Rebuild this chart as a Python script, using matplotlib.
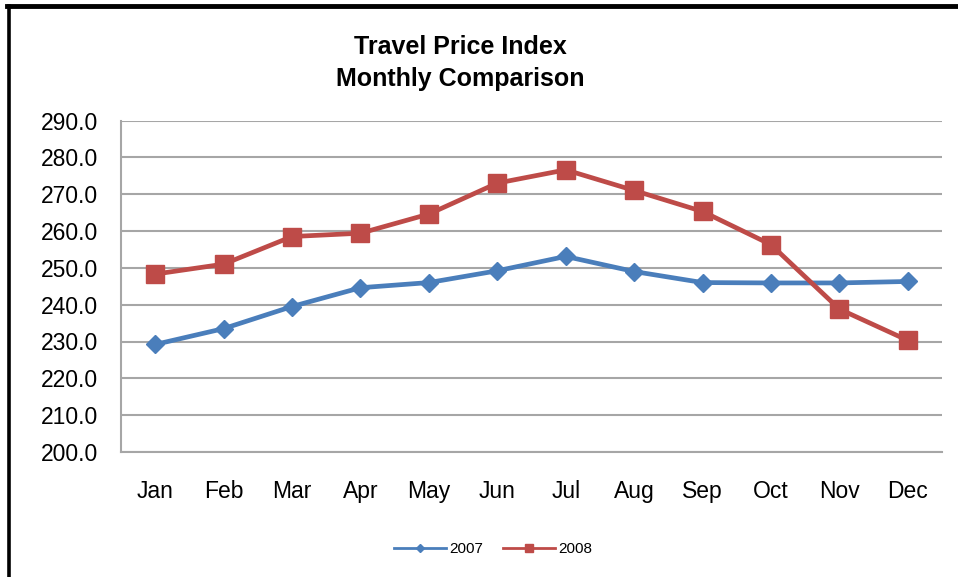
import matplotlib.pyplot as plt
from matplotlib.lines import Line2D

# data
months = ['Jan', 'Feb', 'Mar', 'Apr', 'May', 'Jun', 'Jul', 'Aug', 'Sep', 'Oct', 'Nov', 'Dec']
idx_2007 = [229.2, 233.5, 239.5, 244.6, 246.0, 249.2, 253.1, 249.0, 246.0, 245.9, 245.9, 246.3]
idx_2008 = [248.3, 251.0, 258.5, 259.4, 264.6, 273.0, 276.6, 271.0, 265.3, 256.3, 238.8, 230.3]
y_ticks = [200, 210, 220, 230, 240, 250, 260, 270, 280, 290]

blue = '#4A7EBB'
red = '#BE4B48'
grid_col = '#A6A6A6'

plt.rcParams['font.family'] = ['Liberation Sans', 'DejaVu Sans']

fig = plt.figure(figsize=(9.58, 5.77), dpi=100)
ax = fig.add_axes([121 / 958, 1 - 452 / 577, 821 / 958, (452 - 120.5) / 577])

x = list(range(len(months)))
ax.plot(x, idx_2007, color=blue, lw=3.4, marker='D', markersize=9.5, zorder=3)
ax.plot(x, idx_2008, color=red, lw=3.4, marker='s', markersize=13, zorder=3)

ax.set_xlim(-0.5, len(months) - 0.5)
ax.set_ylim(200, 290)
ax.set_yticks(y_ticks)
ax.set_yticklabels(['%.1f' % v for v in y_ticks], fontsize=16.5)
ax.set_xticks(x)
ax.set_xticklabels(months, fontsize=16.5)
ax.tick_params(axis='both', length=0)
ax.tick_params(axis='y', pad=16.5)
ax.tick_params(axis='x', pad=20)

ax.grid(axis='y', color=grid_col, lw=1.5)
ax.set_axisbelow(True)
for s in ['top', 'right']:
    ax.spines[s].set_visible(False)
ax.spines['left'].set_color(grid_col)
ax.spines['left'].set_linewidth(1.5)
ax.spines['bottom'].set_color(grid_col)
ax.spines['bottom'].set_linewidth(1.5)

# title
fig.text(460 / 958, 1 - 47 / 577, 'Travel Price Index', ha='center', va='center',
         fontsize=18, fontweight='bold')
fig.text(460 / 958, 1 - 79 / 577, 'Monthly Comparison', ha='center', va='center',
         fontsize=18, fontweight='bold')

# legend
handles = [Line2D([], [], color=blue, lw=2, marker='D', markersize=4),
           Line2D([], [], color=red, lw=2, marker='s', markersize=6)]
fig.legend(handles, ['2007', '2008'], loc='center', bbox_to_anchor=(493 / 958, 1 - 549 / 577),
           ncol=2, frameon=False, fontsize=11, handlelength=3.4, handletextpad=0.2,
           columnspacing=1.3)

# black frame on left and top, like the cropped screenshot
fig.add_artist(Line2D([8.5 / 958, 8.5 / 958], [0, 1 - 6 / 577], color='black', lw=2.6,
                      transform=fig.transFigure))
fig.add_artist(Line2D([7 / 958, 1], [1 - 6 / 577, 1 - 6 / 577], color='black', lw=3.5,
                      transform=fig.transFigure))

fig.savefig('out.png', dpi=100)
